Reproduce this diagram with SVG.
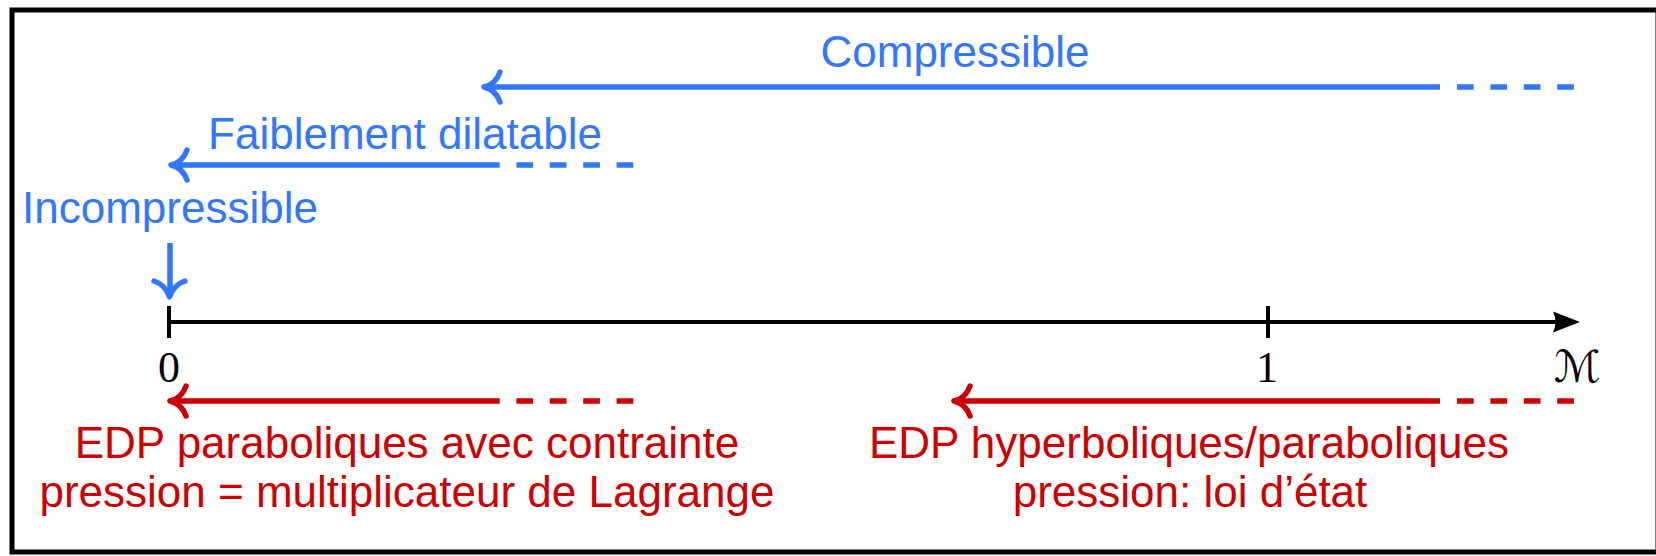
<svg xmlns="http://www.w3.org/2000/svg" width="1656" height="556" viewBox="0 0 1656 556">
<style>
.lbl{font-family:"Liberation Sans",Arial,sans-serif;font-size:44px}
.blue{fill:#3377ff}
.red{fill:#cc0000}
.num{font-family:"Liberation Serif","Times New Roman",serif;font-size:44px;fill:#000;text-anchor:middle}
.lb{stroke:#3377ff;stroke-width:5.5;fill:none}
.lr{stroke:#cc0000;stroke-width:5.5;fill:none}
.dash{stroke-dasharray:16.7 16.7}
.head{stroke-linecap:round;stroke-linejoin:round;stroke-width:5.5;fill:none}
.ax{stroke:#000;stroke-width:4;fill:none}
</style>
<rect x="0" y="0" width="1656" height="556" fill="#fff"/>
<rect x="12" y="10" width="1646" height="542" fill="none" stroke="#000" stroke-width="5"/>
<g id="connectors">
  <g id="axis">
    <line class="ax" x1="169" y1="322" x2="1560" y2="322"/>
    <path d="M1580,322 L1553,311.5 Q1558,322 1553,332.5 Z" fill="#000"/>
    <line class="ax" x1="169" y1="306" x2="169" y2="338"/>
    <line class="ax" x1="1268" y1="306" x2="1268" y2="338"/>
  </g>
  <g id="arrow-compressible">
    <line class="lb" x1="484" y1="87" x2="1440" y2="87"/>
    <line class="lb dash" x1="1457" y1="87" x2="1574" y2="87"/>
    <path class="lb head" d="M500,72 C497,81 490,85.5 484,87 C490,88.5 497,93 500,102"/>
  </g>
  <g id="arrow-faiblement">
    <line class="lb" x1="171" y1="165" x2="483" y2="165"/>
    <line class="lb dash" x1="483" y1="165" x2="634" y2="165"/>
    <path class="lb head" d="M187,150 C184,159 177,163.5 171,165 C177,166.5 184,171 187,180"/>
  </g>
  <g id="arrow-incompressible">
    <line class="lb" x1="170" y1="243" x2="170" y2="296"/>
    <path class="lb head" d="M154,281 C163,284 167.5,291 169.5,297 C171.5,291 176,284 185,281"/>
  </g>
  <g id="arrow-red-left">
    <line class="lr" x1="170" y1="401" x2="483" y2="401"/>
    <line class="lr dash" x1="483" y1="401" x2="634" y2="401"/>
    <path class="lr head" d="M186,386 C183,395 176,399.5 170,401 C176,402.5 183,407 186,416"/>
  </g>
  <g id="arrow-red-right">
    <line class="lr" x1="954" y1="401" x2="1440" y2="401"/>
    <line class="lr dash" x1="1457" y1="401" x2="1574" y2="401"/>
    <path class="lr head" d="M970,386 C967,395 960,399.5 954,401 C960,402.5 967,407 970,416"/>
  </g>
</g>
<g id="node-compressible"><text class="lbl blue" x="955" y="67" text-anchor="middle">Compressible</text></g>
<g id="node-faiblement"><text class="lbl blue" x="405" y="149" text-anchor="middle">Faiblement dilatable</text></g>
<g id="node-incompressible"><text class="lbl blue" x="170" y="223" text-anchor="middle">Incompressible</text></g>
<g id="tick-0"><text class="num" x="169" y="382">0</text></g>
<g id="tick-1"><text class="num" x="1267" y="382">1</text></g>
<g id="axis-label"><text x="1554" y="382" style="font-family:'DejaVu Serif','DejaVu Sans',serif;font-size:44px;fill:#000">ℳ</text></g>
<g id="node-edp-parabolic">
  <text class="lbl red" x="407" y="458" text-anchor="middle">EDP paraboliques avec contrainte</text>
  <text class="lbl red" x="407" y="507" text-anchor="middle">pression = multiplicateur de Lagrange</text>
</g>
<g id="node-edp-hyperbolic">
  <text class="lbl red" x="1189" y="458" text-anchor="middle">EDP hyperboliques/paraboliques</text>
  <text class="lbl red" x="1190" y="507" text-anchor="middle">pression: loi d’état</text>
</g>
</svg>
